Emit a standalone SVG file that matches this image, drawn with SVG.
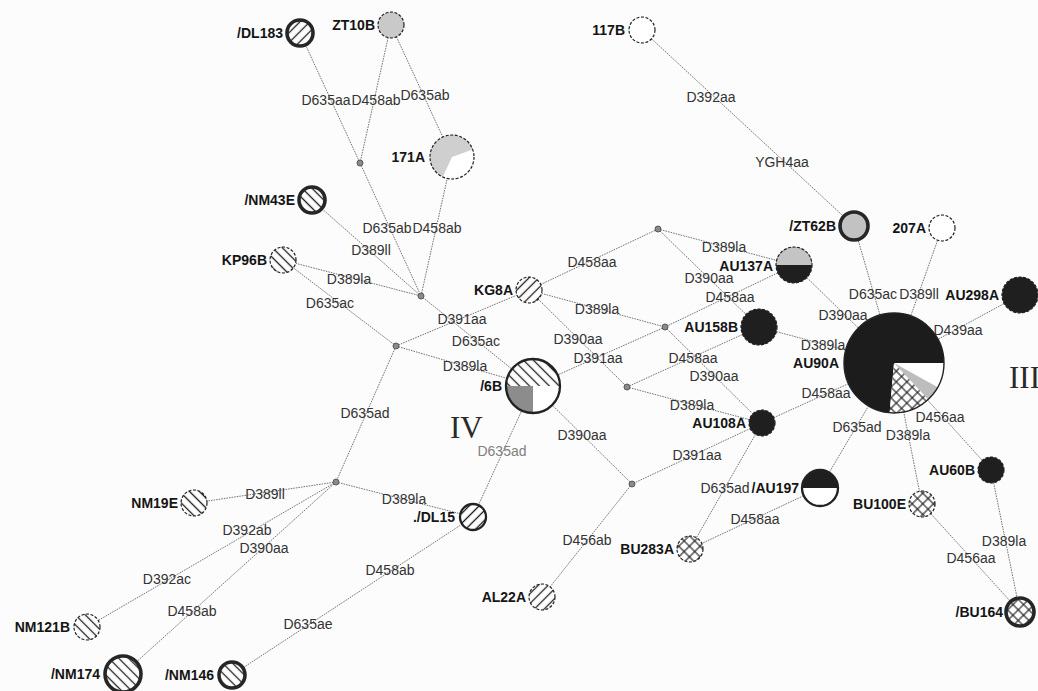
<svg xmlns="http://www.w3.org/2000/svg" width="1038" height="691" viewBox="0 0 1038 691">
  <defs>
    <style>
      .edge { stroke:#767676; stroke-width:1; stroke-dasharray:1.6 1; fill:none; }
      .mv { fill:#8a8a8a; stroke:#5a5a5a; stroke-width:1; }
      .thin { fill:none; stroke:#222; stroke-width:1.2; stroke-dasharray:3 1.6; }
      .med { fill:none; stroke:#222; stroke-width:2.3; }
      .thick { fill:none; stroke:#262626; stroke-width:3.6; }
      .bg { fill:#ffffff; }
      .dark { fill:#1f1f1f; }
      .lgray { fill:#c9c9c9; }
      .nl { font-family:"Liberation Sans", Arial, sans-serif; font-size:14px; font-weight:bold; fill:#151515; text-anchor:end; }
      .el { font-family:"Liberation Sans", Arial, sans-serif; font-size:14px; fill:#333; text-anchor:middle; }
      .faded { fill:#808080; }
      .roman { font-family:"Liberation Serif", "Times New Roman", serif; font-size:31px; fill:#2a2a2a; }
    </style>
    <!-- single diagonal hatch "/" -->
    <pattern id="hatchF" width="7" height="7" patternUnits="userSpaceOnUse" patternTransform="rotate(45)">
      <rect width="7" height="7" fill="#fff"/>
      <line x1="3.5" y1="0" x2="3.5" y2="7" stroke="#1a1a1a" stroke-width="1.3"/>
    </pattern>
    <!-- single diagonal hatch "\" -->
    <pattern id="hatchB" width="7" height="7" patternUnits="userSpaceOnUse" patternTransform="rotate(-45)">
      <rect width="7" height="7" fill="#fff"/>
      <line x1="3.5" y1="0" x2="3.5" y2="7" stroke="#1a1a1a" stroke-width="1.3"/>
    </pattern>
    <!-- diamond cross hatch -->
    <pattern id="cross" width="7.5" height="7.5" patternUnits="userSpaceOnUse" patternTransform="rotate(45)">
      <rect width="7.5" height="7.5" fill="#fff"/>
      <line x1="3.75" y1="0" x2="3.75" y2="7.5" stroke="#1a1a1a" stroke-width="1.1"/>
      <line x1="0" y1="3.75" x2="7.5" y2="3.75" stroke="#1a1a1a" stroke-width="1.1"/>
    </pattern>
  </defs>

  <rect width="1038" height="691" fill="#fcfcfc"/>

  <!-- links between haplotypes and median vectors -->
  <g id="connectors">
    <line class="edge" x1="300" y1="33" x2="360" y2="163"/>
    <line class="edge" x1="391" y1="25" x2="360" y2="163"/>
    <line class="edge" x1="391" y1="25" x2="452" y2="157"/>
    <line class="edge" x1="360" y1="163" x2="421" y2="296"/>
    <line class="edge" x1="452" y1="157" x2="421" y2="296"/>
    <line class="edge" x1="312" y1="200" x2="421" y2="296"/>
    <line class="edge" x1="283" y1="260" x2="421" y2="296"/>
    <line class="edge" x1="283" y1="260" x2="396" y2="346"/>
    <line class="edge" x1="421" y1="296" x2="533" y2="386"/>
    <line class="edge" x1="396" y1="346" x2="529" y2="290"/>
    <line class="edge" x1="396" y1="346" x2="533" y2="386"/>
    <line class="edge" x1="396" y1="346" x2="336" y2="482"/>
    <line class="edge" x1="642" y1="30" x2="854" y2="226"/>
    <line class="edge" x1="529" y1="290" x2="658" y2="229"/>
    <line class="edge" x1="529" y1="290" x2="665" y2="327"/>
    <line class="edge" x1="529" y1="290" x2="627" y2="387"/>
    <line class="edge" x1="533" y1="386" x2="665" y2="327"/>
    <line class="edge" x1="533" y1="386" x2="632" y2="484"/>
    <line class="edge" x1="533" y1="386" x2="473" y2="517"/>
    <line class="edge" x1="658" y1="229" x2="794" y2="265"/>
    <line class="edge" x1="658" y1="229" x2="759" y2="327"/>
    <line class="edge" x1="794" y1="265" x2="665" y2="327"/>
    <line class="edge" x1="665" y1="327" x2="762" y2="423"/>
    <line class="edge" x1="627" y1="387" x2="759" y2="327"/>
    <line class="edge" x1="627" y1="387" x2="762" y2="423"/>
    <line class="edge" x1="794" y1="265" x2="894" y2="363"/>
    <line class="edge" x1="759" y1="327" x2="894" y2="363"/>
    <line class="edge" x1="854" y1="226" x2="894" y2="363"/>
    <line class="edge" x1="942" y1="228" x2="894" y2="363"/>
    <line class="edge" x1="1020" y1="295" x2="894" y2="363"/>
    <line class="edge" x1="762" y1="423" x2="894" y2="363"/>
    <line class="edge" x1="894" y1="363" x2="820" y2="488"/>
    <line class="edge" x1="894" y1="363" x2="922" y2="504"/>
    <line class="edge" x1="894" y1="363" x2="991" y2="470"/>
    <line class="edge" x1="991" y1="470" x2="1020" y2="612"/>
    <line class="edge" x1="922" y1="504" x2="1020" y2="612"/>
    <line class="edge" x1="820" y1="488" x2="690" y2="549"/>
    <line class="edge" x1="762" y1="423" x2="690" y2="549"/>
    <line class="edge" x1="762" y1="423" x2="632" y2="484"/>
    <line class="edge" x1="632" y1="484" x2="542" y2="597"/>
    <line class="edge" x1="336" y1="482" x2="473" y2="517"/>
    <line class="edge" x1="473" y1="517" x2="232" y2="675"/>
    <line class="edge" x1="336" y1="482" x2="194" y2="503"/>
    <line class="edge" x1="336" y1="482" x2="87" y2="627"/>
    <line class="edge" x1="336" y1="482" x2="123" y2="674"/>
  </g>

  <!-- mutation names along the links -->
  <g id="mutations" class="el">
    <text x="326" y="105">D635aa</text>
    <text x="376" y="105">D458ab</text>
    <text x="425" y="100">D635ab</text>
    <text x="387" y="233">D635ab</text>
    <text x="437" y="233">D458ab</text>
    <text x="371" y="255">D389ll</text>
    <text x="349" y="284">D389la</text>
    <text x="330" y="308">D635ac</text>
    <text x="462" y="324">D391aa</text>
    <text x="476" y="346">D635ac</text>
    <text x="465" y="371">D389la</text>
    <text x="365" y="418">D635ad</text>
    <text x="711" y="102">D392aa</text>
    <text x="782" y="167">YGH4aa</text>
    <text x="592" y="267">D458aa</text>
    <text x="597" y="314">D389la</text>
    <text x="578" y="344">D390aa</text>
    <text x="598" y="363">D391aa</text>
    <text x="582" y="440">D390aa</text>
    <text x="502" y="456" class="faded">D635ad</text>
    <text x="724" y="252">D389la</text>
    <text x="709" y="283">D390aa</text>
    <text x="730" y="302">D458aa</text>
    <text x="693" y="363">D458aa</text>
    <text x="714" y="381">D390aa</text>
    <text x="692" y="410">D389la</text>
    <text x="843" y="320">D390aa</text>
    <text x="823" y="350">D389la</text>
    <text x="873" y="299">D635ac</text>
    <text x="919" y="299">D389ll</text>
    <text x="958" y="335">D439aa</text>
    <text x="826" y="398">D458aa</text>
    <text x="857" y="432">D635ad</text>
    <text x="908" y="440">D389la</text>
    <text x="940" y="422">D456aa</text>
    <text x="1004" y="546">D389la</text>
    <text x="971" y="563">D456aa</text>
    <text x="755" y="524">D458aa</text>
    <text x="725" y="493">D635ad</text>
    <text x="697" y="460">D391aa</text>
    <text x="587" y="545">D456ab</text>
    <text x="404" y="504">D389la</text>
    <text x="390" y="575">D458ab</text>
    <text x="308" y="629">D635ae</text>
    <text x="265" y="499">D389ll</text>
    <text x="247" y="535">D392ab</text>
    <text x="167" y="584">D392ac</text>
    <text x="264" y="553">D390aa</text>
    <text x="192" y="616">D458ab</text>
  </g>

  <!-- median vectors -->
  <g id="medians">
    <circle class="mv" cx="360" cy="163" r="3"/>
    <circle class="mv" cx="421" cy="296" r="3"/>
    <circle class="mv" cx="396" cy="346" r="3"/>
    <circle class="mv" cx="658" cy="229" r="3"/>
    <circle class="mv" cx="665" cy="327" r="3"/>
    <circle class="mv" cx="627" cy="387" r="3"/>
    <circle class="mv" cx="632" cy="484" r="3"/>
    <circle class="mv" cx="336" cy="482" r="3"/>
  </g>

  <!-- haplotypes -->
  <g id="DL183">
    <circle cx="300" cy="33" r="13" fill="url(#hatchF)"/>
    <circle class="thick" cx="300" cy="33" r="13"/>
    <text class="nl" x="283" y="38">/DL183</text>
  </g>
  <g id="ZT10B">
    <circle class="lgray" cx="391" cy="25" r="13"/>
    <circle class="thin" cx="391" cy="25" r="13"/>
    <text class="nl" x="375" y="30">ZT10B</text>
  </g>
  <g id="h171A">
    <circle cx="452" cy="157" r="22" fill="#cfcfcf"/>
    <path d="M452,157 L472.67,149.48 A22,22 0 0 1 442.70,176.94 Z" fill="#fff"/>
    <circle class="thin" cx="452" cy="157" r="22"/>
    <text class="nl" x="425" y="162">171A</text>
  </g>
  <g id="h117B">
    <circle class="bg" cx="642" cy="30" r="13"/>
    <circle class="thin" cx="642" cy="30" r="13"/>
    <text class="nl" x="625" y="35">117B</text>
  </g>
  <g id="ZT62B">
    <circle cx="854" cy="226" r="14" fill="#c2c2c2"/>
    <circle class="thick" cx="854" cy="226" r="14"/>
    <text class="nl" x="836" y="231">/ZT62B</text>
  </g>
  <g id="h207A">
    <circle class="bg" cx="942" cy="228" r="13"/>
    <circle class="thin" cx="942" cy="228" r="13"/>
    <text class="nl" x="926" y="233">207A</text>
  </g>
  <g id="NM43E">
    <circle cx="312" cy="200" r="13" fill="url(#hatchB)"/>
    <circle class="thick" cx="312" cy="200" r="13"/>
    <text class="nl" x="295" y="205">/NM43E</text>
  </g>
  <g id="KP96B">
    <circle cx="283" cy="260" r="13" fill="url(#hatchB)"/>
    <circle class="thin" cx="283" cy="260" r="13"/>
    <text class="nl" x="267" y="265">KP96B</text>
  </g>
  <g id="KG8A">
    <circle cx="529" cy="290" r="13" fill="url(#hatchF)"/>
    <circle class="thin" cx="529" cy="290" r="13"/>
    <text class="nl" x="513" y="295">KG8A</text>
  </g>
  <g id="AU137A">
    <circle class="dark" cx="794" cy="265" r="18"/>
    <path d="M776,265 A18,18 0 0 1 812,265 Z" fill="#c4c4c4"/>
    <circle class="thin" cx="794" cy="265" r="18"/>
    <text class="nl" x="773" y="271">AU137A</text>
  </g>
  <g id="AU298A">
    <circle class="dark" cx="1020" cy="295" r="18"/>
    <circle class="thin" cx="1020" cy="295" r="18"/>
    <text class="nl" x="999" y="300">AU298A</text>
  </g>
  <g id="AU158B">
    <circle class="dark" cx="759" cy="327" r="18"/>
    <circle class="thin" cx="759" cy="327" r="18"/>
    <text class="nl" x="738" y="332">AU158B</text>
  </g>
  <g id="AU90A">
    <path d="M894,363 L889.64,412.81 A50,50 0 1 1 944,363 Z" fill="#1c1c1c"/>
    <path d="M894,363 L944,363 A50,50 0 0 1 937.73,387.24 Z" fill="#fff"/>
    <path d="M894,363 L937.73,387.24 A50,50 0 0 1 928.10,399.57 Z" fill="#bdbdbd"/>
    <path d="M894,363 L928.10,399.57 A50,50 0 0 1 889.64,412.81 Z" fill="url(#cross)"/>
    <circle fill="none" stroke="#222" stroke-width="1.4" cx="894" cy="363" r="50"/>
    <text class="nl" x="839" y="368">AU90A</text>
  </g>
  <g id="h6B">
    <circle class="bg" cx="533" cy="386" r="27"/>
    <path d="M506,386 A27,27 0 0 1 560,386 Z" fill="url(#hatchB)"/>
    <path d="M533,386 L533,413 A27,27 0 0 1 506,386 Z" fill="#8c8c8c"/>
    <circle class="med" cx="533" cy="386" r="27"/>
    <text class="nl" x="502" y="391">/6B</text>
  </g>
  <g id="AU108A">
    <circle class="dark" cx="762" cy="423" r="13"/>
    <circle class="thin" cx="762" cy="423" r="13"/>
    <text class="nl" x="746" y="428">AU108A</text>
  </g>
  <g id="AU60B">
    <circle class="dark" cx="991" cy="470" r="13"/>
    <circle class="thin" cx="991" cy="470" r="13"/>
    <text class="nl" x="975" y="475">AU60B</text>
  </g>
  <g id="AU197">
    <circle class="bg" cx="820" cy="488" r="18"/>
    <path d="M802,488 A18,18 0 0 1 838,488 Z" fill="#1f1f1f"/>
    <circle class="med" cx="820" cy="488" r="18"/>
    <text class="nl" x="799" y="493">/AU197</text>
  </g>
  <g id="BU100E">
    <circle cx="922" cy="504" r="13" fill="url(#cross)"/>
    <circle class="thin" cx="922" cy="504" r="13"/>
    <text class="nl" x="906" y="509">BU100E</text>
  </g>
  <g id="BU164">
    <circle cx="1020" cy="612" r="14" fill="url(#cross)"/>
    <circle class="thick" cx="1020" cy="612" r="14"/>
    <text class="nl" x="1003" y="617">/BU164</text>
  </g>
  <g id="BU283A">
    <circle cx="690" cy="549" r="13" fill="url(#cross)"/>
    <circle class="thin" cx="690" cy="549" r="13"/>
    <text class="nl" x="674" y="554">BU283A</text>
  </g>
  <g id="AL22A">
    <circle cx="542" cy="597" r="13" fill="url(#hatchF)"/>
    <circle class="thin" cx="542" cy="597" r="13"/>
    <text class="nl" x="526" y="602">AL22A</text>
  </g>
  <g id="DL15">
    <circle cx="473" cy="517" r="13" fill="url(#hatchF)"/>
    <circle class="med" cx="473" cy="517" r="13"/>
    <text class="nl" x="455" y="522">./DL15</text>
  </g>
  <g id="NM19E">
    <circle cx="194" cy="503" r="13" fill="url(#hatchB)"/>
    <circle class="thin" cx="194" cy="503" r="13"/>
    <text class="nl" x="178" y="508">NM19E</text>
  </g>
  <g id="NM121B">
    <circle cx="87" cy="627" r="13" fill="url(#hatchB)"/>
    <circle class="thin" cx="87" cy="627" r="13"/>
    <text class="nl" x="70" y="632">NM121B</text>
  </g>
  <g id="NM174">
    <circle cx="123" cy="674" r="18" fill="url(#hatchB)"/>
    <circle class="thick" cx="123" cy="674" r="18"/>
    <text class="nl" x="100" y="679">/NM174</text>
  </g>
  <g id="NM146">
    <circle cx="232" cy="675" r="13" fill="url(#hatchB)"/>
    <circle class="thick" cx="232" cy="675" r="13"/>
    <text class="nl" x="214" y="680">/NM146</text>
  </g>

  <!-- cluster numerals -->
  <g id="clusters" class="roman">
    <text x="450" y="438">IV</text>
    <text x="1009" y="388">III</text>
  </g>
</svg>
